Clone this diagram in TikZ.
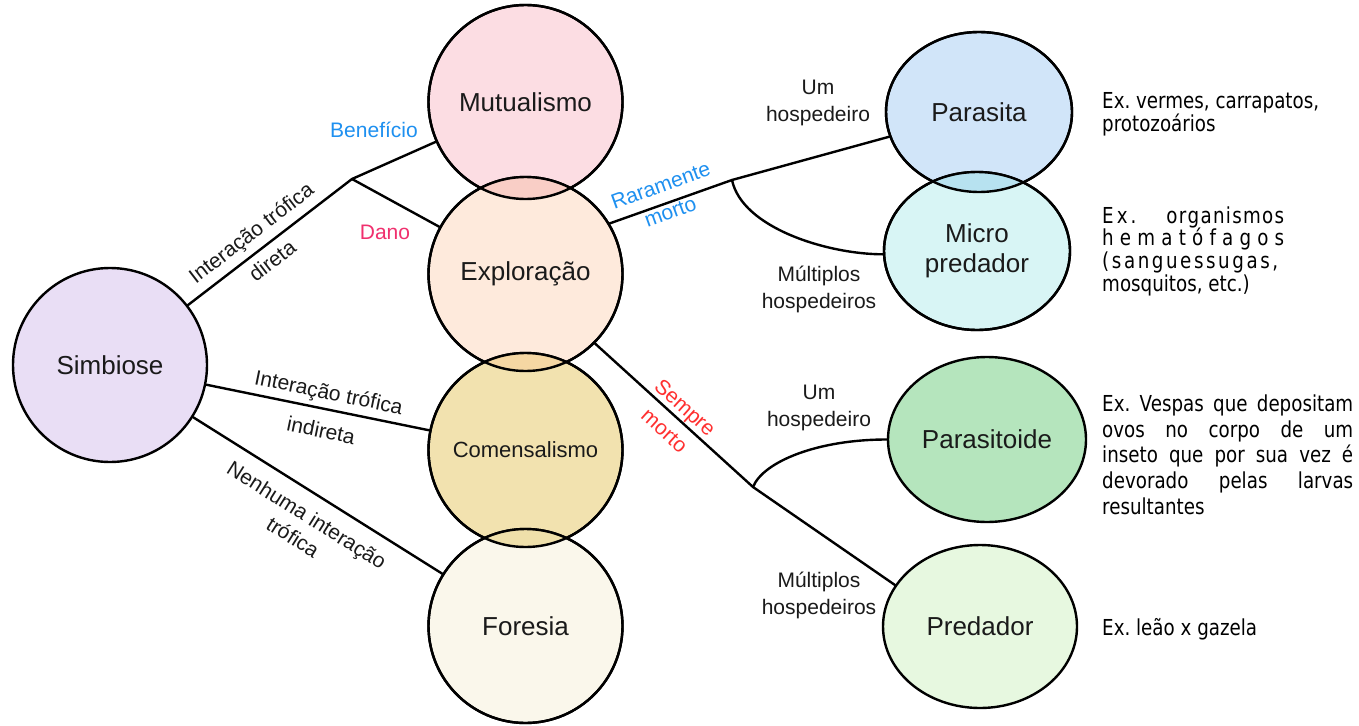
\documentclass[tikz,border=0pt]{standalone}
\usepackage{fontspec}
\setmainfont{Liberation Sans}
\newfontfamily\exfont[FakeStretch=0.83]{DejaVu Sans}
\usetikzlibrary{shapes.geometric}
\definecolor{cSim}{HTML}{E9DEF5}
\definecolor{cMut}{HTML}{FCDDE3}
\definecolor{cExp}{HTML}{FEEADC}
\definecolor{cCom}{HTML}{F2E2AF}
\definecolor{cFor}{HTML}{FAF7EB}
\definecolor{cPar}{HTML}{D1E5F9}
\definecolor{cMic}{HTML}{D8F5F5}
\definecolor{cPtd}{HTML}{B5E5BD}
\definecolor{cPrd}{HTML}{E7F8E0}
\definecolor{lensA}{HTML}{F9CEC6}
\definecolor{lensB}{HTML}{F5D7A3}
\definecolor{lensC}{HTML}{EFE0AA}
\definecolor{lensD}{HTML}{B7E2F0}
\definecolor{txt}{HTML}{1A1A1A}
\definecolor{lblue}{HTML}{1E90F0}
\definecolor{lpink}{HTML}{F0306E}
\definecolor{lred}{HTML}{FF3030}
\tikzset{
  bub/.style={circle, draw=black, line width=2.4pt, minimum size=194pt, inner sep=0pt,
    font=\fontsize{26}{30}\selectfont, text=txt},
  ell/.style={ellipse, draw=black, line width=2.4pt, inner sep=0pt, align=center,
    font=\fontsize{26}{30}\selectfont, text=txt},
  bord/.style={draw=black, line width=2.4pt},
  conn/.style={draw=black, line width=2.4pt, line cap=round},
  lab/.style={align=center, text=txt, inner sep=0pt, font=\fontsize{21}{27}\selectfont},
  extxt/.style={anchor=base west, inner sep=0pt, text=black, font=\exfont\fontsize{22}{24}\selectfont},
}
\begin{document}
\begin{tikzpicture}[x=1pt,y=-1pt]
\useasboundingbox (0,0) rectangle (1359,725);
\fill[white] (0,0) rectangle (1359,725);

% circles
\node[bub, fill=cSim] (simb) at (110,365) {Simbiose};
\node[bub, fill=cMut] (mut) at (525.5,102) {Mutualismo};
\node[bub, fill=cExp] (expl) at (525.5,274) {Exploração};
\node[bub, fill=cCom, font=\fontsize{22}{26}\selectfont] (com) at (525.5,450) {Comensalismo};
\node[bub, fill=cFor] (for) at (525.5,626) {Foresia};
\node[ell, fill=cPar, minimum width=186pt, minimum height=160pt] (par) at (979,112) {Parasita};
\node[ell, fill=cMic, minimum width=186pt, minimum height=158pt] (mic) at (977,251) {Micro\\predador};
\node[ell, fill=cPtd, minimum width=198pt, minimum height=165pt] (ptd) at (987,439.5) {Parasitoide};
\node[ell, fill=cPrd, minimum width=194pt, minimum height=163pt] (prd) at (980,626.5) {Predador};

% overlaps
\begin{scope}
  \clip (mut.center) circle[radius=97pt];
  \fill[lensA] (expl.center) circle[radius=97pt];
\end{scope}
\begin{scope}
  \clip (expl.center) circle[radius=97pt];
  \fill[lensB] (com.center) circle[radius=97pt];
\end{scope}
\begin{scope}
  \clip (com.center) circle[radius=97pt];
  \fill[lensC] (for.center) circle[radius=97pt];
\end{scope}
\begin{scope}
  \clip (par.center) ellipse[x radius=93pt, y radius=80pt];
  \fill[lensD] (mic.center) ellipse[x radius=93pt, y radius=79pt];
\end{scope}
\draw[bord] (mut.center) circle[radius=97pt];
\draw[bord] (expl.center) circle[radius=97pt];
\draw[bord] (com.center) circle[radius=97pt];
\draw[bord] (for.center) circle[radius=97pt];
\draw[bord] (par.center) ellipse[x radius=93pt, y radius=80pt];
\draw[bord] (mic.center) ellipse[x radius=93pt, y radius=79pt];

% connectors
\coordinate (j1) at (352,179);
\coordinate (j2) at (732,180);
\coordinate (j3) at (753,487);
\draw[conn] (simb) -- (j1);
\draw[conn] (j1) -- (mut);
\draw[conn] (j1) -- (expl);
\draw[conn] (simb) -- (com);
\draw[conn] (simb) -- (for);
\draw[conn] (expl.31) -- (j2) -- (par);
\draw[conn] (j2) .. controls +(10,48) and +(-55,0) .. (mic.182);
\draw[conn] (expl.-45) -- (j3) -- (prd.154);
\draw[conn] (j3) .. controls +(10,-25) and +(-70,0) .. (ptd.west);

% edge labels
\node[lab, rotate=37.5, font=\fontsize{21}{35}\selectfont] (l1) at (261.5,246.5) {Interação trófica\\direta};
\node[lab, text=lblue] (l2) at (374,130) {Benefício};
\node[lab, text=lpink] (l3) at (385,232) {Dano};
\node[lab, rotate=-11.6, font=\fontsize{21}{39}\selectfont] (l4) at (325,411) {Interação trófica\\indireta};
\node[lab, rotate=-32.2, font=\fontsize{21}{26}\selectfont] (l5) at (300,526) {Nenhuma interação\\trófica};
\node[lab, rotate=20, text=lblue, font=\fontsize{21}{28}\selectfont] (l6) at (665.5,198.5) {Raramente\\morto};
\node[lab, rotate=-42, text=lred, font=\fontsize{21}{31}\selectfont] (l7) at (675,419) {Sempre\\morto};
\node[lab] (l8) at (818,103) {Um\\hospedeiro};
\node[lab] (l9) at (819,289) {Múltiplos\\hospedeiros};
\node[lab] (l10) at (819,408) {Um\\hospedeiro};
\node[lab] (l11) at (819,595) {Múltiplos\\hospedeiros};

% examples
\node[extxt] (e1a) at (1102,108) {Ex.\ vermes, carrapatos,};
\node[extxt] (e1b) at (1102,131) {protozoários};
\node[extxt] (e2a) at (1102,223) {\hbox to 182pt{E\kern3pt x\kern3pt .\hfill o\kern1.3pt r\kern1.3pt g\kern1.3pt a\kern1.3pt n\kern1.3pt i\kern1.3pt s\kern1.3pt m\kern1.3pt o\kern1.3pt s}};
\node[extxt] (e2b) at (1102,245) {\hbox to 182pt{h\hfill e\hfill m\hfill a\hfill t\hfill ó\hfill f\hfill a\hfill g\hfill o\hfill s}};
\node[extxt] (e2c) at (1102,268) {\hbox to 176pt{(\hfill s\hfill a\hfill n\hfill g\hfill u\hfill e\hfill s\hfill s\hfill u\hfill g\hfill a\hfill s\hfill ,}};
\node[extxt] (e2d) at (1102,291) {mosquitos, etc.)};
\node[extxt] (e3a) at (1102,411) {\hbox to 251pt{Ex.\ Vespas que depositam}};
\node[extxt] (e3b) at (1102,437) {\hbox to 251pt{ovos no corpo de um}};
\node[extxt] (e3c) at (1102,462) {\hbox to 251pt{inseto que por sua vez é}};
\node[extxt] (e3d) at (1102,488) {\hbox to 251pt{devorado pelas larvas}};
\node[extxt] (e3e) at (1102,514) {resultantes};
\node[extxt] (e4) at (1102,635) {Ex.\ leão x gazela};
\end{tikzpicture}
\end{document}
